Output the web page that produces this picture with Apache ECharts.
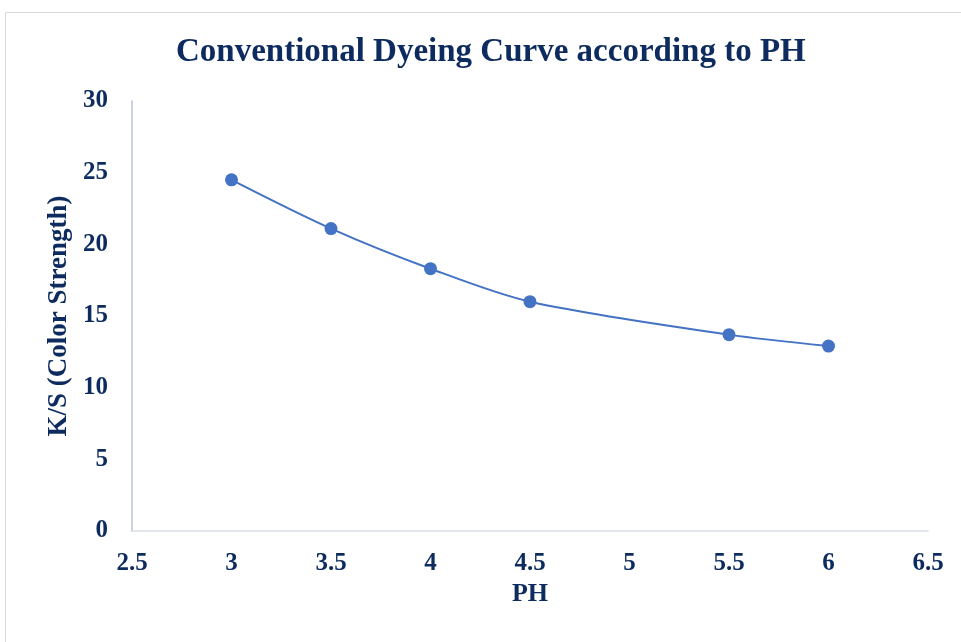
<!DOCTYPE html>
<html>
<head>
<meta charset="utf-8">
<script src="https://cdn.jsdelivr.net/npm/echarts@6/dist/echarts.min.js"></script>
<style>
  html, body { margin: 0; padding: 0; background: #fff; }
  #chart { width: 961px; height: 642px; }
</style>
</head>
<body>
<div id="chart"></div>
<script>
// PH values and measured K/S
const phValues = [3, 3.5, 4, 4.5, 5.5, 6];
const ksValues = [24.5, 21.1, 18.3, 16.0, 13.7, 12.9];

const navy = '#0d2b5e';
const fontFamily = '"Liberation Serif", "Times New Roman", serif';

const chart = echarts.init(document.getElementById('chart'));

chart.setOption({
  backgroundColor: '#fff',
  title: {
    text: 'Conventional Dyeing Curve according to PH',
    left: 171,
    top: 31,
    textStyle: { color: navy, fontFamily, fontWeight: 'bold', fontSize: 33 }
  },
  graphic: [{
    type: 'rect',
    shape: { x: 5.5, y: 12.5, width: 960, height: 640 },
    style: { fill: 'none', stroke: '#d9d9d9', lineWidth: 1 },
    silent: true
  }],
  grid: { left: 132, right: 33, top: 101, bottom: 111 },
  xAxis: {
    type: 'value',
    min: 2.5,
    max: 6.5,
    interval: 0.5,
    name: 'PH',
    nameLocation: 'middle',
    nameGap: 49,
    nameTextStyle: { color: navy, fontFamily, fontWeight: 'bold', fontSize: 26 },
    axisLine: { show: true, lineStyle: { color: '#d9dde6', width: 1.5 } },
    axisTick: { show: false },
    splitLine: { show: false },
    axisLabel: { color: navy, fontFamily, fontWeight: 'bold', fontSize: 25, margin: 20 }
  },
  yAxis: {
    type: 'value',
    min: 0,
    max: 30,
    interval: 5,
    name: 'K/S (Color Strength)',
    nameLocation: 'middle',
    nameRotate: 90,
    nameGap: 58,
    nameTextStyle: { color: navy, fontFamily, fontWeight: 'bold', fontSize: 27 },
    axisLine: { show: true, lineStyle: { color: '#b8c3d9', width: 1.5 } },
    axisTick: { show: false },
    splitLine: { show: false },
    axisLabel: { color: navy, fontFamily, fontWeight: 'bold', fontSize: 25, margin: 24 }
  },
  series: [{
    type: 'line',
    data: phValues.map((x, i) => [x, ksValues[i]]),
    smooth: 0.3,
    symbol: 'circle',
    symbolSize: 13,
    lineStyle: { color: '#4472c4', width: 2 },
    itemStyle: { color: '#4472c4' }
  }]
});
</script>
</body>
</html>
